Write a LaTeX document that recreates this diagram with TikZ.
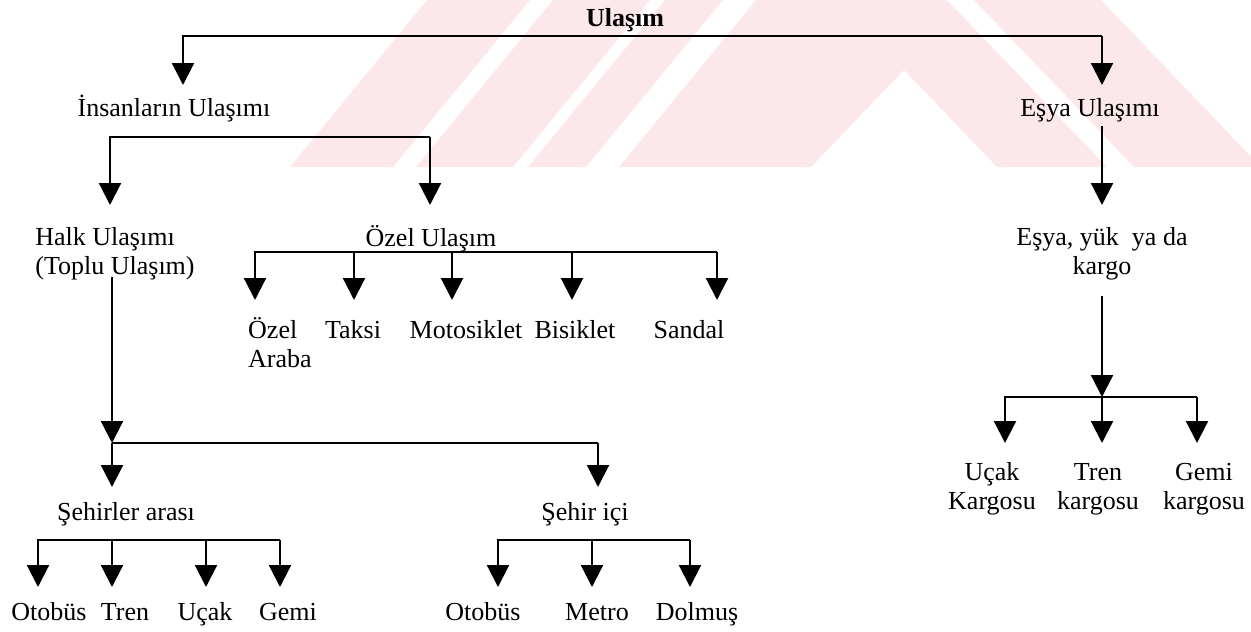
\documentclass[tikz,border=0pt]{standalone}
\usepackage{fontspec}
\setmainfont{Liberation Serif}
\usetikzlibrary{arrows.meta}
\definecolor{wm}{RGB}{252,231,235}
\begin{document}
\begin{tikzpicture}[x=1pt,y=-1pt,
  lbl/.style={inner sep=0pt, anchor=base, font=\fontsize{26}{29}\selectfont},
  mlbl/.style={inner sep=0pt, anchor=north, align=center, font=\fontsize{26}{29}\selectfont},
  rootlbl/.style={inner sep=0pt, anchor=base, font=\bfseries\fontsize{26}{29}\selectfont},
  busline/.style={line width=2.2pt},
  conn/.style={line width=2.2pt, -{Triangle[width=22pt,length=22pt]}}]
\useasboundingbox (0,0) rectangle (1251,632);
% watermark
\begin{scope}
\clip (250,0) rectangle (1251,167);
\fill[wm] (427,0) -- (530,0) -- (393,167) -- (290,167) -- cycle;
\fill[wm] (553,0) -- (650,0) -- (513,167) -- (416,167) -- cycle;
\fill[wm] (665,0) -- (723,0) -- (586,167) -- (528,167) -- cycle;
\fill[wm] (756,0) -- (947,0) -- (904,70) -- (811,167) -- (619,167) -- cycle;
\fill[wm] (947,0) -- (1107,167) -- (997,167) -- (904,70) -- cycle;
\fill[wm] (974,0) -- (1101,0) -- (1261,167) -- (1134,167) -- cycle;
\end{scope}
% texts
\node[rootlbl] (root) at (625,26) {Ulaşım};
\node[lbl] (insan) at (174,116) {İnsanların Ulaşımı};
\node[lbl] (esya) at (1090,116) {Eşya Ulaşımı};
\node[mlbl, align=left] (halk) at (115,225) {\strut Halk Ulaşımı\\(Toplu Ulaşım)};
\node[lbl] (ozel) at (431,246) {Özel Ulaşım};
\node[mlbl] (yuk) at (1102,225) {\strut Eşya, yük\ \ ya da\\kargo};
\node[mlbl, align=left, anchor=north west] (ozelaraba) at (248,317) {\strut Özel\\Araba};
\node[lbl] (taksi) at (353,338) {Taksi};
\node[lbl] (moto) at (466,338) {Motosiklet};
\node[lbl] (bisiklet) at (575,338) {Bisiklet};
\node[lbl] (sandal) at (689,338) {Sandal};
\node[lbl] (sehirler) at (126,520) {Şehirler arası};
\node[lbl] (sehirici) at (585,520) {Şehir içi};
\node[lbl] (otobus1) at (49,620) {Otobüs};
\node[lbl] (tren1) at (125,620) {Tren};
\node[lbl] (ucak1) at (205,620) {Uçak};
\node[lbl] (gemi1) at (288,620) {Gemi};
\node[lbl] (otobus2) at (483,620) {Otobüs};
\node[lbl] (metro) at (597,620) {Metro};
\node[lbl] (dolmus) at (697,620) {Dolmuş};
\node[mlbl] (kucak) at (992,460) {\strut Uçak\\Kargosu};
\node[mlbl] (ktren) at (1098,460) {\strut Tren\\kargosu};
\node[mlbl] (kgemi) at (1204,460) {\strut Gemi\\kargosu};
% junction coordinates
\coordinate (rootR) at (1102,36);
\coordinate (tInsan) at (183,85);
\coordinate (tEsya) at (1102,85);
\coordinate (insR) at (430,137);
\coordinate (tHalk) at (110,205);
\coordinate (tOzel) at (430,205);
\coordinate (esyaS) at (1102,126);
\coordinate (tYuk) at (1102,205);
\coordinate (ozB) at (717,252);
\coordinate (halkS) at (112,277);
\coordinate (halkB) at (112,443);
\coordinate (halkR) at (598,443);
\coordinate (tSehirler) at (112,487);
\coordinate (tSehirici) at (598,487);
\coordinate (shB) at (280,540);
\coordinate (siB) at (690,540);
\coordinate (yukS) at (1102,296);
\coordinate (yukB) at (1102,397);
\coordinate (kB) at (1197,397);
% connectors level 0
\draw[conn] (rootR) -| (tInsan);
\draw[conn] (rootR) -- (tEsya);
% level 1
\draw[conn] (insR) -| (tHalk);
\draw[conn] (insR) -- (tOzel);
\draw[conn] (esyaS) -- (tYuk);
% ozel
\draw[conn] (ozB) -| (255,300);
\draw[conn] (354,252) -- (354,300);
\draw[conn] (452,252) -- (452,300);
\draw[conn] (572,252) -- (572,300);
\draw[conn] (ozB) -- (717,300);
% halk
\draw[conn] (halkS) -- (halkB);
\draw[busline] (halkB) -- (halkR);
\draw[conn] (halkB) -- (tSehirler);
\draw[conn] (halkR) -- (tSehirici);
% sehirler arasi
\draw[conn] (shB) -| (38,587);
\draw[conn] (112,540) -- (112,587);
\draw[conn] (206,540) -- (206,587);
\draw[conn] (shB) -- (280,587);
% sehir ici
\draw[conn] (siB) -| (498,587);
\draw[conn] (592,540) -- (592,587);
\draw[conn] (siB) -- (690,587);
% esya yuk
\draw[conn] (yukS) -- (yukB);
\draw[conn] (kB) -| (1005,443);
\draw[conn] (yukB) -- (1102,443);
\draw[conn] (kB) -- (1197,443);
\end{tikzpicture}
\end{document}
